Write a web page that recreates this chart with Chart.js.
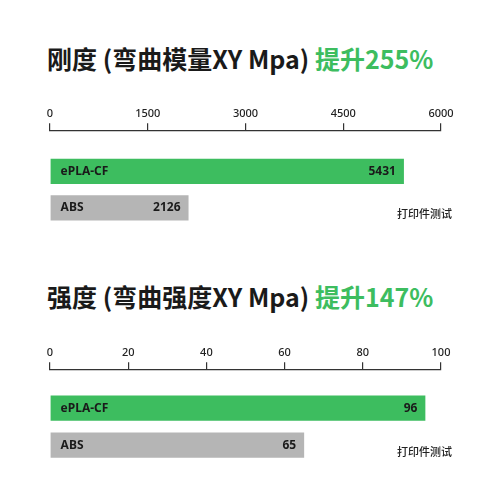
<!DOCTYPE html>
<html lang="zh">
<head>
<meta charset="UTF-8">
<title>刚度与强度</title>
<script src="https://cdn.jsdelivr.net/npm/chart.js"></script>
<style>
  body { margin: 0; background: #fff; }
  #wrap { position: relative; width: 500px; height: 500px; overflow: hidden; font-family: "Noto Sans CJK SC", sans-serif; }
  .title { position: absolute; left: 47px; font-size: 25px; font-weight: 700; color: #1a1a1a; line-height: 25px; white-space: nowrap; }
  .title span { color: #3dbd5f; }
  .note { position: absolute; left: 397px; font-size: 11px; font-weight: 500; color: #222; line-height: 11px; white-space: nowrap; }
  canvas { position: absolute; left: 0; }
</style>
</head>
<body>
<div id="wrap">
  <div class="title" style="top:46px">刚度 (弯曲模量XY Mpa) <span>提升255%</span></div>
  <canvas id="stiffness" width="500" height="145" style="top:104px"></canvas>
  <div class="note" style="top:208px">打印件测试</div>

  <div class="title" style="top:284px">强度 (弯曲强度XY Mpa) <span>提升147%</span></div>
  <canvas id="strength" width="500" height="141" style="top:343px"></canvas>
  <div class="note" style="top:446px">打印件测试</div>
</div>

<script>
var materials = ['ePLA-CF', 'ABS'];
var barColors = ['#3dbd5f', '#b5b5b5'];

var stiffnessTicks = [0, 1500, 3000, 4500, 6000];
var stiffnessValues = [5431, 2126];

var strengthTicks = [0, 20, 40, 60, 80, 100];
var strengthValues = [96, 65];

// nombre a la izquierda, valor a la derecha dentro de cada barra
var barLabels = {
  id: 'barLabels',
  afterDatasetsDraw: function(chart) {
    var ctx = chart.ctx;
    ctx.save();
    ctx.font = 'bold 12px "Noto Sans", sans-serif';
    ctx.fillStyle = '#1a1a1a';
    ctx.textBaseline = 'middle';
    chart.data.datasets.forEach(function(ds, i) {
      var bar = chart.getDatasetMeta(i).data[0];
      ctx.textAlign = 'left';
      ctx.fillText(ds.label, bar.base + 10, bar.y);
      ctx.textAlign = 'right';
      ctx.fillText(String(ds.data[0]), bar.x - 8, bar.y);
    });
    ctx.restore();
  }
};

function dibujar(id, values, ticks, catPct, barPct) {
  var ctx = document.getElementById(id).getContext('2d');
  return new Chart(ctx, {
    type: 'bar',
    data: {
      labels: [''],
      datasets: materials.map(function(m, i) {
        return {
          label: m,
          data: [values[i]],
          backgroundColor: barColors[i],
          borderWidth: 0,
          categoryPercentage: catPct,
          barPercentage: barPct
        };
      })
    },
    options: {
      indexAxis: 'y',
      responsive: false,
      animation: false,
      layout: { padding: { left: 50, right: 59, top: 0, bottom: 0 } },
      plugins: { legend: { display: false }, tooltip: { enabled: false } },
      scales: {
        x: {
          position: 'top',
          min: ticks[0],
          max: ticks[ticks.length - 1],
          afterBuildTicks: function(scale) {
            scale.ticks = ticks.map(function(v) { return { value: v }; });
          },
          grid: { drawOnChartArea: false, drawTicks: true, tickLength: 7, color: '#333', lineWidth: 1.2 },
          border: { display: true, color: '#333', width: 1.2 },
          ticks: {
            color: '#222',
            font: { family: 'Noto Sans', size: 11, weight: '500' },
            padding: 3,
            maxRotation: 0,
            autoSkip: false,
            callback: function(v) { return String(v); }
          }
        },
        y: { display: false }
      }
    },
    plugins: [barLabels]
  });
}

dibujar('stiffness', stiffnessValues, stiffnessTicks, 0.617, 0.69);
dibujar('strength', strengthValues, strengthTicks, 0.644, 0.684);
</script>
</body>
</html>
